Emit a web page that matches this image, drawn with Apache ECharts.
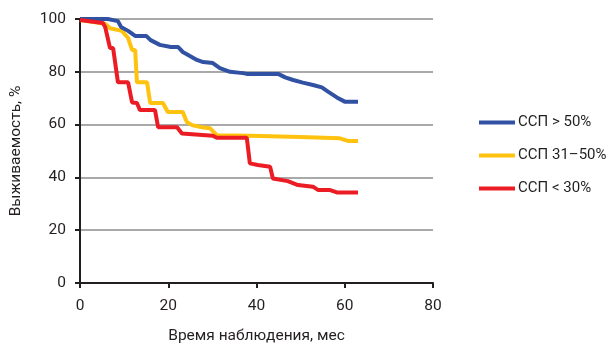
<!DOCTYPE html>
<html><head><meta charset="utf-8">
<script src="https://cdn.jsdelivr.net/npm/echarts@6/dist/echarts.min.js"></script>
<style>html,body{margin:0;padding:0;background:#fff}#c{width:614px;height:343px}</style>
</head><body><div id="c"></div>
<script>
var seriesNames = ['ССП > 50%', 'ССП 31–50%', 'ССП < 30%'];
var xTicks = [0, 20, 40, 60, 80];
var yTicks = [0, 20, 40, 60, 80, 100];
var blueX = [0, 6.3, 8.6, 9.3, 10.9, 12.5, 15, 16, 18.1, 20.6, 22.2, 23.3, 26.5, 27.9, 30.1, 31.7, 34, 36.9, 37.8, 44.9, 46.5, 48.3, 50.5, 52.8, 54.8, 56.2, 58.2, 60, 63];
var blueY = [100, 100, 99.2, 97, 95.5, 93.6, 93.6, 92, 90.2, 89.4, 89.4, 87.5, 84.5, 83.7, 83.3, 81.4, 80, 79.5, 79.2, 79.2, 77.9, 76.9, 75.9, 75, 74.1, 72.5, 70.3, 68.7, 68.7];
var yellowX = [0, 5.7, 6.8, 9.5, 10.9, 11.8, 12.5, 12.9, 15.2, 15.9, 18.8, 19.9, 23.3, 24.2, 25.4, 27.6, 29.5, 31, 38.5, 49.9, 58.9, 60.7, 63];
var yellowY = [99.6, 98.2, 96.5, 95.5, 92.8, 88.3, 88.3, 76, 76, 68.2, 68.2, 64.8, 64.8, 61, 59.8, 59, 58.6, 56, 55.8, 55.3, 54.8, 53.8, 53.8];
var redX = [0, 5.2, 5.7, 6.8, 7.5, 8.6, 10.9, 11.8, 12.9, 13.6, 17, 17.7, 22, 23.1, 30.1, 31, 37.8, 38.5, 40.3, 43.1, 43.7, 47.1, 49.4, 52.8, 54, 56.7, 58.2, 63];
var redY = [99.6, 98.5, 97, 89, 89, 76, 76, 68.4, 68.2, 65.5, 65.5, 59, 59, 56.6, 55.8, 55, 55, 45.3, 44.7, 44, 39.6, 38.6, 37.1, 36.5, 35.2, 35.2, 34.3, 34.3];

function pairs(xs, ys){ return xs.map(function(x,i){ return [x, ys[i]]; }); }
var colors = ['#3151a3', '#ffc20e', '#ec1c24'];
var font = '"Liberation Sans Narrow", "Roboto", sans-serif';
var chart = echarts.init(document.getElementById('c'));
chart.setOption({
  animation: false,
  textStyle: {fontFamily: font},
  grid: {left: 80, right: 181, top: 19, bottom: 60, containLabel: false, outerBoundsMode: 'none'},
  legend: {
    orient: 'vertical', left: 474, top: 110, itemGap: 18,
    itemWidth: 36, itemHeight: 4, icon: 'rect',
    textStyle: {fontFamily: font, fontSize: 15, color: '#231f20', padding: [0,0,0,-2]},
    data: seriesNames
  },
  xAxis: {
    type: 'value', min: 0, max: 80, interval: 20,
    name: 'Время наблюдения, мес', nameLocation: 'middle', nameGap: 45,
    nameTextStyle: {fontFamily: font, fontSize: 15.5, color: '#231f20'},
    axisLine: {show: true, lineStyle: {color: '#231f20', width: 2}},
    axisTick: {show: true, length: 5, lineStyle: {color: '#231f20', width: 2}},
    axisLabel: {fontFamily: font, fontSize: 15.5, color: '#231f20', margin: 15,
      formatter: function(v){ return xTicks.indexOf(v) >= 0 ? String(v) : ''; }},
    splitLine: {show: false}
  },
  yAxis: {
    type: 'value', min: 0, max: 100, interval: 20,
    name: 'Выживаемость, %', nameLocation: 'middle', nameGap: 56,
    nameTextStyle: {fontFamily: font, fontSize: 15.5, color: '#231f20'},
    axisLine: {show: true, lineStyle: {color: '#231f20', width: 2}},
    axisTick: {show: true, length: 5, lineStyle: {color: '#231f20', width: 2}},
    axisLabel: {fontFamily: font, fontSize: 15.5, color: '#231f20', margin: 14,
      formatter: function(v){ return yTicks.indexOf(v) >= 0 ? String(v) : ''; }},
    splitLine: {show: true, lineStyle: {color: '#8c8c8c', width: 1.5}}
  },
  series: [
    {name: seriesNames[0], type: 'line', data: pairs(blueX, blueY), showSymbol: false, symbol: 'none', lineStyle: {width: 4, color: colors[0]}, itemStyle: {color: colors[0]}, z: 3},
    {name: seriesNames[1], type: 'line', data: pairs(yellowX, yellowY), showSymbol: false, symbol: 'none', lineStyle: {width: 4, color: colors[1]}, itemStyle: {color: colors[1]}, z: 2},
    {name: seriesNames[2], type: 'line', data: pairs(redX, redY), showSymbol: false, symbol: 'none', lineStyle: {width: 4, color: colors[2]}, itemStyle: {color: colors[2]}, z: 4}
  ]
});
</script></body></html>
